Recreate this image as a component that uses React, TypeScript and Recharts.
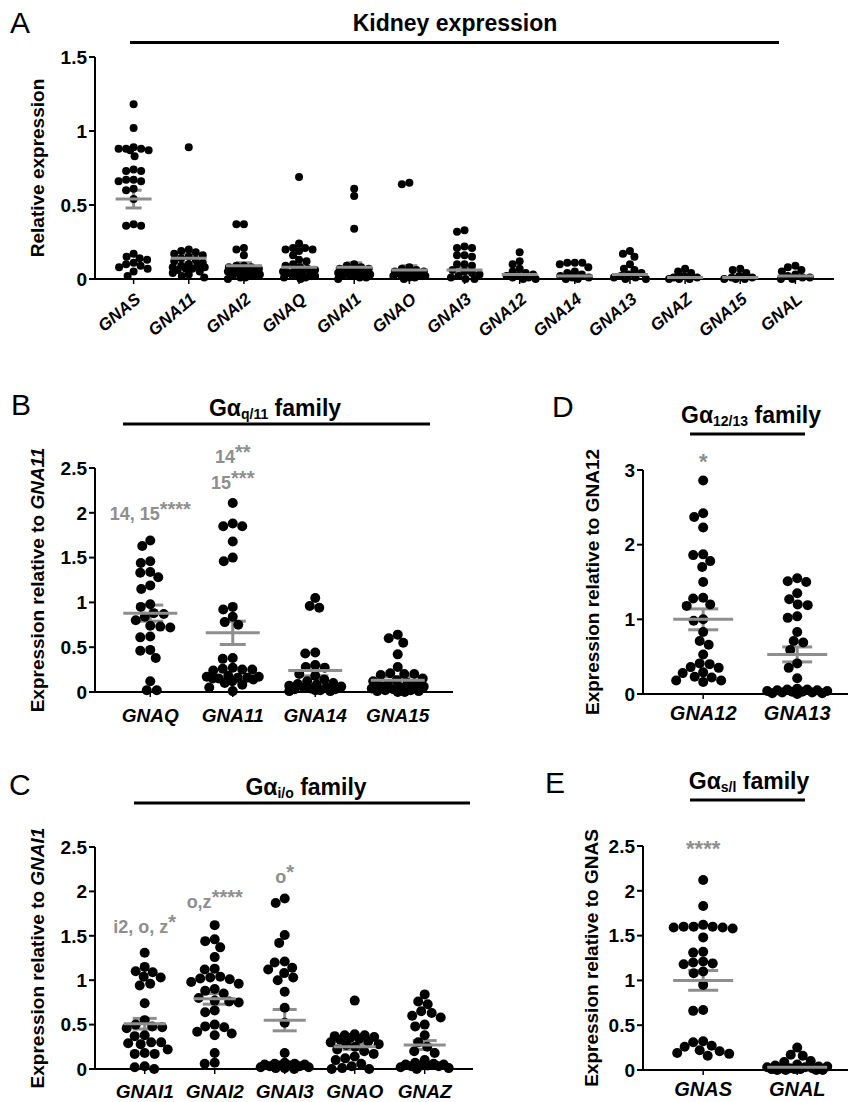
import React from "react";
import { ScatterChart, Scatter, XAxis, YAxis, ErrorBar, ReferenceDot } from "recharts";

// ---- Panel A: kidney expression ----
const kidneyGenes = ["GNAS", "GNA11", "GNAI2", "GNAQ", "GNAI1", "GNAO", "GNAI3", "GNA12", "GNA14", "GNA13", "GNAZ", "GNA15", "GNAL"];
const kGNAS = [1.18, 1.02, 0.89, 0.88, 0.88, 0.88, 0.87, 0.87, 0.83, 0.74, 0.73, 0.73, 0.67, 0.67, 0.66, 0.66, 0.61, 0.6, 0.54, 0.37, 0.36, 0.36, 0.17, 0.15, 0.14, 0.13, 0.11, 0.1, 0.09, 0.08, 0.07, 0.05, 0.02];
const kGNA11 = [0.89, 0.2, 0.19, 0.18, 0.17, 0.16, 0.15, 0.14, 0.13, 0.12, 0.11, 0.1, 0.09, 0.09, 0.08, 0.08, 0.07, 0.07, 0.06, 0.05, 0.04, 0.03, 0.02, 0.01];
const kGNAI2 = [0.37, 0.37, 0.21, 0.2, 0.16, 0.09, 0.09, 0.08, 0.08, 0.07, 0.07, 0.06, 0.06, 0.05, 0.05, 0.04, 0.04, 0.03, 0.03, 0.02, 0.02, 0.01, 0.01, 0.0];
const kGNAQ = [0.69, 0.24, 0.21, 0.21, 0.2, 0.2, 0.19, 0.16, 0.13, 0.12, 0.1, 0.09, 0.08, 0.07, 0.06, 0.05, 0.05, 0.04, 0.04, 0.03, 0.03, 0.02, 0.02, 0.01, 0.01, 0.0];
const kGNAI1 = [0.61, 0.56, 0.34, 0.1, 0.09, 0.08, 0.07, 0.07, 0.06, 0.05, 0.05, 0.04, 0.04, 0.03, 0.03, 0.02, 0.02, 0.01, 0.01, 0.0];
const kGNAO = [0.65, 0.64, 0.08, 0.07, 0.06, 0.05, 0.05, 0.04, 0.04, 0.03, 0.03, 0.02, 0.02, 0.01, 0.01, 0.0];
const kGNAI3 = [0.33, 0.32, 0.22, 0.21, 0.21, 0.16, 0.16, 0.15, 0.1, 0.1, 0.09, 0.06, 0.05, 0.04, 0.03, 0.02, 0.01, 0.0, 0.0];
const kGNA12 = [0.18, 0.12, 0.1, 0.07, 0.05, 0.04, 0.03, 0.02, 0.02, 0.01, 0.01, 0.0, 0.0];
const kGNA14 = [0.11, 0.11, 0.11, 0.1, 0.08, 0.05, 0.04, 0.03, 0.02, 0.01, 0.01, 0.0, 0.0];
const kGNA13 = [0.19, 0.17, 0.15, 0.1, 0.07, 0.06, 0.04, 0.03, 0.02, 0.01, 0.01, 0.0, 0.0];
const kGNAZ = [0.07, 0.05, 0.04, 0.02, 0.01, 0.01, 0.0, 0.0, 0.0];
const kGNA15 = [0.07, 0.06, 0.04, 0.02, 0.01, 0.01, 0.0, 0.0, 0.0];
const kGNAL = [0.09, 0.08, 0.06, 0.05, 0.03, 0.02, 0.01, 0.01, 0.0, 0.0];
const kidneyMeans = [0.54, 0.14, 0.09, 0.08, 0.08, 0.06, 0.06, 0.03, 0.02, 0.03, 0.01, 0.01, 0.02];
const kidneySems = [0.06, 0.03, 0.02, 0.02, 0.03, 0.03, 0.015, 0.01, 0.01, 0.01, 0.005, 0.005, 0.005];

// ---- Panel B: Gq/11 family ----
const qGenes = ["GNAQ", "GNA11", "GNA14", "GNA15"];
const qGNAQ = [1.69, 1.63, 1.46, 1.44, 1.34, 1.33, 1.28, 1.19, 1.15, 0.98, 0.95, 0.88, 0.87, 0.84, 0.8, 0.74, 0.73, 0.72, 0.62, 0.61, 0.47, 0.46, 0.38, 0.12, 0.02, 0.02];
const qGNA11 = [2.11, 1.88, 1.85, 1.85, 1.68, 1.5, 1.46, 0.95, 0.92, 0.84, 0.78, 0.75, 0.38, 0.37, 0.27, 0.26, 0.25, 0.25, 0.24, 0.18, 0.17, 0.17, 0.16, 0.16, 0.15, 0.15, 0.14, 0.12, 0.1, 0.08, 0.05, 0.01];
const qGNA14 = [1.05, 0.96, 0.94, 0.44, 0.43, 0.3, 0.28, 0.27, 0.2, 0.18, 0.14, 0.12, 0.1, 0.09, 0.08, 0.07, 0.06, 0.05, 0.05, 0.04, 0.03, 0.03, 0.02, 0.02, 0.01, 0.01];
const qGNA15 = [0.64, 0.6, 0.55, 0.42, 0.28, 0.21, 0.2, 0.2, 0.19, 0.15, 0.13, 0.12, 0.1, 0.09, 0.08, 0.07, 0.06, 0.05, 0.04, 0.03, 0.02, 0.02, 0.01, 0.01, 0.0, 0.0];
const qMeans = [0.88, 0.66, 0.24, 0.13];
const qSems = [0.09, 0.13, 0.06, 0.04];

// ---- Panel C: Gi/o family ----
const ioGenes = ["GNAI1", "GNAI2", "GNAI3", "GNAO", "GNAZ"];
const ioGNAI1 = [1.31, 1.15, 1.1, 1.09, 1.04, 1.03, 0.96, 0.94, 0.74, 0.55, 0.5, 0.48, 0.47, 0.46, 0.38, 0.37, 0.3, 0.3, 0.29, 0.28, 0.22, 0.18, 0.17, 0.17, 0.03, 0.02, 0.0];
const ioGNAI2 = [1.62, 1.46, 1.44, 1.37, 1.26, 1.13, 1.12, 1.04, 1.03, 1.02, 1.01, 0.98, 0.96, 0.9, 0.88, 0.85, 0.8, 0.77, 0.76, 0.75, 0.66, 0.64, 0.5, 0.48, 0.47, 0.42, 0.4, 0.38, 0.18, 0.07, 0.06];
const ioGNAI3 = [1.92, 1.87, 1.51, 1.42, 1.21, 1.2, 1.14, 1.12, 1.08, 1.03, 1.0, 0.87, 0.69, 0.52, 0.18, 0.07, 0.06, 0.06, 0.05, 0.05, 0.04, 0.04, 0.03, 0.03, 0.02, 0.02, 0.01, 0.01, 0.0];
const ioGNAO = [0.77, 0.39, 0.38, 0.38, 0.37, 0.36, 0.35, 0.34, 0.33, 0.31, 0.3, 0.28, 0.27, 0.25, 0.22, 0.2, 0.17, 0.14, 0.12, 0.1, 0.06, 0.03, 0.01, 0.0, 0.0];
const ioGNAZ = [0.84, 0.76, 0.73, 0.65, 0.63, 0.6, 0.58, 0.5, 0.48, 0.38, 0.3, 0.25, 0.2, 0.18, 0.1, 0.07, 0.06, 0.05, 0.05, 0.04, 0.04, 0.03, 0.03, 0.02, 0.01, 0.0];
const ioMeans = [0.51, 0.79, 0.55, 0.25, 0.27];
const ioSems = [0.06, 0.06, 0.12, 0.03, 0.05];

// ---- Panel D: G12/13 family ----
const g12Genes = ["GNA12", "GNA13"];
const g12GNA12 = [2.86, 2.42, 2.37, 2.23, 1.87, 1.86, 1.78, 1.7, 1.5, 1.29, 1.28, 1.2, 1.18, 1.0, 0.98, 0.83, 0.71, 0.66, 0.53, 0.41, 0.4, 0.36, 0.35, 0.29, 0.28, 0.23, 0.22, 0.18, 0.18, 0.16];
const g12GNA13 = [1.55, 1.51, 1.5, 1.35, 1.27, 1.2, 1.19, 1.04, 1.02, 0.83, 0.71, 0.69, 0.59, 0.41, 0.35, 0.21, 0.07, 0.06, 0.06, 0.05, 0.05, 0.04, 0.04, 0.03, 0.03, 0.02, 0.02, 0.01, 0.01, 0.0];
const g12Means = [1.0, 0.53];
const g12Sems = [0.14, 0.1];

// ---- Panel E: Gs/olf family ----
const sGenes = ["GNAS", "GNAL"];
const sGNAS = [2.12, 1.83, 1.62, 1.6, 1.6, 1.6, 1.59, 1.59, 1.58, 1.48, 1.32, 1.31, 1.21, 1.2, 1.19, 1.18, 1.1, 1.08, 0.95, 0.67, 0.66, 0.32, 0.31, 0.27, 0.26, 0.22, 0.21, 0.19, 0.18, 0.16];
const sGNAL = [0.25, 0.17, 0.16, 0.1, 0.09, 0.06, 0.05, 0.04, 0.04, 0.03, 0.03, 0.02, 0.02, 0.02, 0.01, 0.01, 0.01, 0.0, 0.0, 0.0, 0.0];
const sMeans = [1.0, 0.03];
const sSems = [0.11, 0.01];

const FONT = "'Liberation Sans', Arial, Helvetica, sans-serif";
const GREY = "#8e8e8e";
const Y_W = 60;

type Note = { cat: number; y: number; text: string; sup: string };

type Panel = {
  genes: string[];
  values: number[][];
  means: number[];
  sems: number[];
  box: { left: number; top: number; width: number; height: number };
  margin: { top: number; right: number; bottom: number; left: number };
  xAxisH: number;
  xDomain: [number, number];
  yMax: number;
  yTicks: number[];
  r: number;
  spread: number;
  gap: number;
  meanHalf: number;
  capHalf: number;
  rotate: boolean;
  xFont: number;
  xDy: number;
  labelX: number;
  yLabel: string;
  yLabelGene?: string;
  geneItalic: boolean;
  notes: Note[];
};

// simple beeswarm: nearest free horizontal slot (in px) for each point
function swarm(values: number[], pxY: number, minDist: number, spread: number): number[] {
  const order = values.map((_, i) => i).sort((a, b) => values[b] - values[a]);
  const placed: { x: number; y: number }[] = [];
  const out: number[] = new Array(values.length).fill(0);
  for (const i of order) {
    const y = values[i] * pxY;
    let best = 0;
    let bestD = -1;
    for (let k = 0; k <= spread * 4; k++) {
      const dx = (k % 2 ? -1 : 1) * Math.ceil(k / 2) * 0.5;
      let d = Infinity;
      for (const p of placed) d = Math.min(d, Math.hypot(p.x - dx, p.y - y));
      if (d >= minDist) {
        best = dx;
        bestD = d;
        break;
      }
      if (d > bestD) {
        bestD = d;
        best = dx;
      }
    }
    placed.push({ x: best, y });
    out[i] = best;
  }
  return out;
}

const panels: Panel[] = [
  {
    genes: kidneyGenes,
    values: [kGNAS, kGNA11, kGNAI2, kGNAQ, kGNAI1, kGNAO, kGNAI3, kGNA12, kGNA14, kGNA13, kGNAZ, kGNA15, kGNAL],
    means: kidneyMeans,
    sems: kidneySems,
    box: { left: 0, top: 0, width: 849, height: 340 },
    margin: { top: 57, right: 15, bottom: 6, left: 35 },
    xAxisH: 55,
    xDomain: [-0.7, 12.7],
    yMax: 1.5,
    yTicks: [0, 0.5, 1, 1.5],
    r: 4,
    spread: 16,
    gap: 7.2,
    meanHalf: 18,
    capHalf: 8,
    rotate: true,
    xFont: 17,
    xDy: 15,
    labelX: 44,
    yLabel: "Relative expression",
    geneItalic: false,
    notes: [],
  },
  {
    genes: qGenes,
    values: [qGNAQ, qGNA11, qGNA14, qGNA15],
    means: qMeans,
    sems: qSems,
    box: { left: 0, top: 420, width: 480, height: 320 },
    margin: { top: 48, right: 27, bottom: 8, left: 35 },
    xAxisH: 40,
    xDomain: [-0.67, 3.67],
    yMax: 2.5,
    yTicks: [0, 0.5, 1, 1.5, 2, 2.5],
    r: 5,
    spread: 26,
    gap: 9.6,
    meanHalf: 27,
    capHalf: 13,
    rotate: false,
    xFont: 19,
    xDy: 23,
    labelX: 44,
    yLabel: "Expression relative to ",
    yLabelGene: "GNA11",
    geneItalic: true,
    notes: [
      { cat: 0, y: 1.92, text: "14, 15", sup: "****" },
      { cat: 1, y: 2.56, text: "14", sup: "**" },
      { cat: 1, y: 2.27, text: "15", sup: "***" },
    ],
  },
  {
    genes: ioGenes,
    values: [ioGNAI1, ioGNAI2, ioGNAI3, ioGNAO, ioGNAZ],
    means: ioMeans,
    sems: ioSems,
    box: { left: 0, top: 800, width: 490, height: 302 },
    margin: { top: 47, right: 17, bottom: 3, left: 35 },
    xAxisH: 30,
    xDomain: [-0.71, 4.69],
    yMax: 2.5,
    yTicks: [0, 0.5, 1, 1.5, 2, 2.5],
    r: 5,
    spread: 24,
    gap: 9.6,
    meanHalf: 21,
    capHalf: 12,
    rotate: false,
    xFont: 19,
    xDy: 22,
    labelX: 44,
    yLabel: "Expression relative to ",
    yLabelGene: "GNAI1",
    geneItalic: true,
    notes: [
      { cat: 0, y: 1.53, text: "i2, o, z", sup: "*" },
      { cat: 1, y: 1.81, text: "o,z", sup: "****" },
      { cat: 2, y: 2.1, text: "o", sup: "*" },
    ],
  },
  {
    genes: g12Genes,
    values: [g12GNA12, g12GNA13],
    means: g12Means,
    sems: g12Sems,
    box: { left: 500, top: 420, width: 349, height: 320 },
    margin: { top: 50, right: 1, bottom: 6, left: 83 },
    xAxisH: 40,
    xDomain: [-0.64, 1.54],
    yMax: 3,
    yTicks: [0, 1, 2, 3],
    r: 5,
    spread: 30,
    gap: 9.6,
    meanHalf: 30,
    capHalf: 15,
    rotate: false,
    xFont: 20,
    xDy: 19,
    labelX: 99,
    yLabel: "Expression relative to ",
    yLabelGene: "GNA12",
    geneItalic: false,
    notes: [{ cat: 0, y: 3.01, text: "", sup: "*" }],
  },
  {
    genes: sGenes,
    values: [sGNAS, sGNAL],
    means: sMeans,
    sems: sSems,
    box: { left: 500, top: 800, width: 349, height: 302 },
    margin: { top: 46, right: 1, bottom: 2, left: 83 },
    xAxisH: 30,
    xDomain: [-0.64, 1.54],
    yMax: 2.5,
    yTicks: [0, 0.5, 1, 1.5, 2, 2.5],
    r: 5,
    spread: 30,
    gap: 9.6,
    meanHalf: 30,
    capHalf: 15,
    rotate: false,
    xFont: 20,
    xDy: 19,
    labelX: 98,
    yLabel: "Expression relative to ",
    yLabelGene: "GNAS",
    geneItalic: false,
    notes: [{ cat: 0, y: 2.39, text: "", sup: "****" }],
  },
];

function DotPanel({ p }: { p: Panel }) {
  const plotW = p.box.width - p.margin.left - Y_W - p.margin.right;
  const plotH = p.box.height - p.margin.top - p.margin.bottom - p.xAxisH;
  const pxX = plotW / (p.xDomain[1] - p.xDomain[0]);
  const pxY = plotH / p.yMax;

  const dots = p.genes.flatMap((_, i) => {
    const offs = swarm(p.values[i], pxY, p.gap, p.spread);
    return p.values[i].map((v, k) => ({ x: i + offs[k] / pxX, y: v }));
  });
  const stats = p.genes.map((_, i) => ({ x: i, y: p.means[i], sem: p.sems[i] }));

  const xTick = (props: any) => {
    const { x, y, payload } = props;
    const name = p.genes[payload.value] ?? "";
    if (p.rotate) {
      const tx = x + 8;
      const ty = y + p.xDy;
      return (
        <text x={tx} y={ty} transform={`rotate(-40, ${tx}, ${ty})`} textAnchor="end" fontSize={p.xFont} fontWeight="bold" fontStyle="italic" fontFamily={FONT} fill="#000">
          {name}
        </text>
      );
    }
    return (
      <text x={x} y={y + p.xDy} textAnchor="middle" fontSize={p.xFont} fontWeight="bold" fontStyle="italic" fontFamily={FONT} fill="#000">
        {name}
      </text>
    );
  };

  const yLabel = (lp: any) => {
    const vb = lp.viewBox || {};
    const cy = (vb.y ?? p.margin.top) + (vb.height ?? plotH) / 2;
    const x = p.labelX;
    return (
      <text x={x} y={cy} transform={`rotate(-90, ${x}, ${cy})`} textAnchor="middle" fontSize={19} fontWeight="bold" fontFamily={FONT} fill="#000">
        {p.yLabel}
        {p.yLabelGene ? <tspan fontStyle={p.geneItalic ? "italic" : "normal"}>{p.yLabelGene}</tspan> : null}
      </text>
    );
  };

  return (
    <div style={{ position: "absolute", left: p.box.left, top: p.box.top }}>
      <ScatterChart width={p.box.width} height={p.box.height} margin={p.margin}>
        <XAxis
          type="number"
          dataKey="x"
          domain={p.xDomain}
          ticks={p.genes.map((_, i) => i)}
          interval={0}
          height={p.xAxisH}
          tick={xTick}
          tickSize={5}
          axisLine={{ stroke: "#000", strokeWidth: 2 }}
          tickLine={{ stroke: "#000", strokeWidth: 1.5 }}
        />
        <YAxis
          type="number"
          dataKey="y"
          domain={[0, p.yMax]}
          ticks={p.yTicks}
          interval={0}
          width={Y_W}
          tickSize={6}
          tick={{ fill: "#000", fontSize: 19, fontWeight: "bold", fontFamily: FONT }}
          axisLine={{ stroke: "#000", strokeWidth: 2 }}
          tickLine={{ stroke: "#000", strokeWidth: 2 }}
          label={yLabel}
        />
        <Scatter
          data={dots}
          isAnimationActive={false}
          shape={(s: any) => <circle cx={s.cx} cy={s.cy} r={p.r} fill="#000" />}
        />
        <Scatter
          data={stats}
          isAnimationActive={false}
          shape={(s: any) => (
            <line x1={s.cx - p.meanHalf} x2={s.cx + p.meanHalf} y1={s.cy} y2={s.cy} stroke={GREY} strokeWidth={3} />
          )}
        >
          <ErrorBar dataKey="sem" direction="y" width={p.capHalf} stroke={GREY} strokeWidth={3} />
        </Scatter>
        {p.notes.map((n, i) => (
          <ReferenceDot
            key={i}
            x={n.cat}
            y={n.y}
            r={0}
            ifOverflow="visible"
            shape={(s: any) => (
              <text x={s.cx} y={s.cy} textAnchor="middle" fontSize={18} fontWeight="bold" fontFamily={FONT} fill={GREY}>
                {n.text}
                <tspan fontSize={n.text ? 20 : 22} dy={n.text ? -4 : 0}>{n.sup}</tspan>
              </text>
            )}
          />
        ))}
      </ScatterChart>
    </div>
  );
}

function Overlay() {
  const title = { fontFamily: FONT, fontWeight: "bold" as const, fontSize: 23, fill: "#000", textAnchor: "middle" as const };
  const letter = { fontFamily: FONT, fontSize: 30, fill: "#000" };
  const sub = { fontSize: 14 };
  return (
    <svg width={849} height={1102} style={{ position: "absolute", left: 0, top: 0, pointerEvents: "none" }}>
      <text x={10} y={33} {...letter}>A</text>
      <text x={11} y={415} {...letter}>B</text>
      <text x={9} y={795} {...letter}>C</text>
      <text x={552} y={417} {...letter}>D</text>
      <text x={545} y={793} {...letter}>E</text>

      <text x={455} y={31} {...title}>Kidney expression</text>
      <line x1={130} x2={779} y1={42.5} y2={42.5} stroke="#000" strokeWidth={3} />

      <text x={275} y={416} {...title}>
        Gα<tspan {...sub} dy={3}>q/11</tspan><tspan dy={-3}> family</tspan>
      </text>
      <line x1={123} x2={430} y1={424} y2={424} stroke="#000" strokeWidth={3} />

      <text x={306} y={795} {...title}>
        Gα<tspan {...sub} dy={3}>i/o</tspan><tspan dy={-3}> family</tspan>
      </text>
      <line x1={134} x2={470} y1={803} y2={803} stroke="#000" strokeWidth={3} />

      <text x={751} y={423} {...title}>
        Gα<tspan {...sub} dy={3}>12/13</tspan><tspan dy={-3}> family</tspan>
      </text>
      <line x1={690} x2={805} y1={434} y2={434} stroke="#000" strokeWidth={3} />

      <text x={749} y={789} {...title}>
        Gα<tspan {...sub} dy={3}>s/l</tspan><tspan dy={-3}> family</tspan>
      </text>
      <line x1={690} x2={805} y1={800} y2={800} stroke="#000" strokeWidth={3} />
    </svg>
  );
}

export default function App() {
  return (
    <div style={{ position: "absolute", left: 0, top: 0, width: 849, height: 1102, background: "#fff", fontFamily: FONT }}>
      {panels.map((p, i) => (
        <DotPanel key={i} p={p} />
      ))}
      <Overlay />
    </div>
  );
}
